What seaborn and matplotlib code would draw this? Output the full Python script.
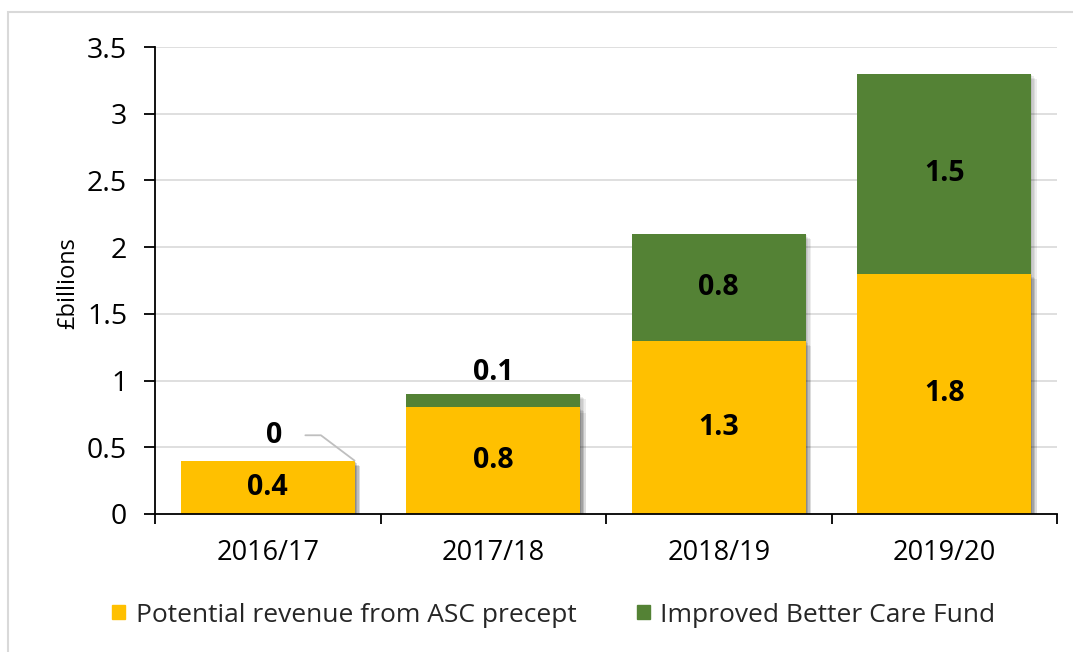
import matplotlib
matplotlib.use("Agg")
import matplotlib.pyplot as plt
import matplotlib.patheffects as pe
from matplotlib.patches import Rectangle
import seaborn as sns
import pandas as pd
import numpy as np

years = ["2016/17", "2017/18", "2018/19", "2019/20"]
asc_precept = [0.4, 0.8, 1.3, 1.8]
ibcf = [0.0, 0.1, 0.8, 1.5]
asc_label = "Potential revenue from ASC precept"
ibcf_label = "Improved Better Care Fund"
y_ticks = [0, 0.5, 1, 1.5, 2, 2.5, 3, 3.5]
y_tick_labels = ["0", "0.5", "1", "1.5", "2", "2.5", "3", "3.5"]

YELLOW = "#FFC000"
GREEN = "#548235"

sns.set_theme(style="white")
plt.rcParams["font.family"] = ["Open Sans", "DejaVu Sans"]

df = pd.DataFrame({"year": years, "asc": asc_precept, "ibcf": ibcf})
df["total"] = df["asc"] + df["ibcf"]

fig = plt.figure(figsize=(10.73, 6.52), dpi=100)
ax = fig.add_axes([155 / 1073, 1 - 514 / 652, (1057 - 155) / 1073, (514 - 47) / 652])

shadow = [pe.SimplePatchShadow(offset=(o, -o), shadow_rgbFace="black", alpha=0.07)
          for o in (1.0, 2.0, 3.0, 4.0)] + [pe.Normal()]

sns.barplot(data=df, x="year", y="total", color=GREEN, saturation=1, width=0.77,
            ax=ax, zorder=3, edgecolor="none")
sns.barplot(data=df, x="year", y="asc", color=YELLOW, saturation=1, width=0.77,
            ax=ax, zorder=4, edgecolor="none")
for p in ax.patches:
    p.set_path_effects(shadow)

ax.set_xlim(-0.5, 3.5)
ax.set_ylim(0, 3.5)
ax.set_yticks(y_ticks)
ax.set_yticklabels(y_tick_labels)
for y in y_ticks[1:]:
    ax.axhline(y, color="#D9D9D9", lw=1.2, zorder=1)

for s in ["top", "right"]:
    ax.spines[s].set_visible(False)
for s in ["left", "bottom"]:
    ax.spines[s].set_color("black")
    ax.spines[s].set_linewidth(1.3)
    ax.spines[s].set_zorder(6)

ax.tick_params(axis="y", which="major", left=True, length=8, width=1.3, color="black",
               labelsize=20.5, pad=12, labelcolor="black")
ax.tick_params(axis="x", which="major", bottom=False, labelsize=19.5, pad=12, labelcolor="black")
ax.set_xticks(np.arange(-0.5, 4.0, 1.0), minor=True)
ax.tick_params(axis="x", which="minor", bottom=True, length=7, width=1.3, color="black")
ax.set_xlabel("")
ax.set_ylabel("")
fig.text(68 / 1073, 1 - 283 / 652, "£billions", rotation=90, ha="center", va="center",
         fontsize=17, color="black")

# segment labels
lab_kw = dict(ha="center", va="center", fontsize=20.5, fontweight="bold", color="black", zorder=7)
for i, (a, b) in enumerate(zip(asc_precept, ibcf)):
    ax.text(i, a / 2, f"{a:g}", **lab_kw)
    if b >= 0.5:
        ax.text(i, a + b / 2, f"{b:g}", **lab_kw)
    elif b > 0:
        ax.text(i, a + b + 0.16, f"{b:g}", **lab_kw)
    else:
        ax.annotate(f"{b:g}", xy=(i + 0.385, a + b), xytext=(i + 0.03, a + 0.19),
                    arrowprops=dict(arrowstyle="-", color="#BFBFBF", lw=1.3,
                                    shrinkA=14, shrinkB=0,
                                    connectionstyle="angle,angleA=0,angleB=143,rad=0"),
                    **lab_kw)

handles = [Rectangle((0, 0), 1, 1, color=YELLOW), Rectangle((0, 0), 1, 1, color=GREEN)]
fig.legend(handles, [asc_label, ibcf_label], loc="center", ncol=2,
           bbox_to_anchor=(554 / 1073, 1 - 615 / 652), frameon=False, fontsize=19,
           handlelength=0.48, handleheight=0.48, handletextpad=0.4, columnspacing=2.3)

fig.patches.append(Rectangle((8 / 1073, -0.1), 1.2, 1 - 12 / 652 + 0.1, transform=fig.transFigure,
                             fill=False, edgecolor="#D9D9D9", lw=1.5, figure=fig))

fig.savefig("out.png", dpi=100)
